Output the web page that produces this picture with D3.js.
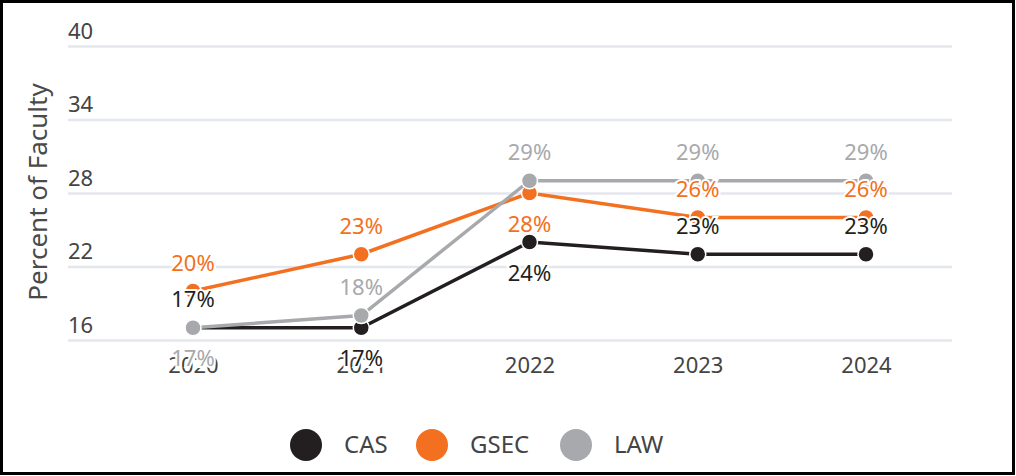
<!DOCTYPE html>
<html>
<head>
<meta charset="utf-8">
<script src="https://cdn.jsdelivr.net/npm/d3@7"></script>
<style>
  html, body { margin: 0; padding: 0; background: #fff; }
  svg { display: block; }
  text { font-family: "Noto Sans", "Open Sans", sans-serif; }
</style>
</head>
<body>
<svg id="chart" width="1016" height="476"></svg>
<script>
const years = ["2020", "2021", "2022", "2023", "2024"];
const seriesNames = ["CAS", "GSEC", "LAW"];
const casValues = [17, 17, 24, 23, 23];
const gsecValues = [20, 23, 28, 26, 26];
const lawValues = [17, 18, 29, 29, 29];
const yTicks = [16, 22, 28, 34, 40];
const yTitle = "Percent of Faculty";

// label placement (above / below each point)
const casLabelSide = ["above", "below", "below", "above", "above"];
const gsecLabelSide = ["above", "above", "below", "above", "above"];
const lawLabelSide = ["below", "above", "above", "above", "above"];

const colors = { CAS: "#231f20", GSEC: "#f37021", LAW: "#a7a9ac" };

const series = [
  { name: "CAS", values: casValues, side: casLabelSide },
  { name: "GSEC", values: gsecValues, side: gsecLabelSide },
  { name: "LAW", values: lawValues, side: lawLabelSide }
];

const svg = d3.select("#chart");
const plotLeft = 68, plotRight = 952, plotTop = 46, plotBottom = 340;

svg.append("rect").attr("x", 1.5).attr("y", 1.5).attr("width", 1012).attr("height", 472)
  .attr("fill", "#fff").attr("stroke", "#000").attr("stroke-width", 3);

const x = d3.scalePoint().domain(years).range([193, 866]).padding(0);
const y = d3.scaleLinear().domain([16, 40]).range([plotBottom, plotTop]);

// y axis gridlines + labels
const yAxis = svg.append("g").attr("transform", `translate(${plotLeft},0)`)
  .call(d3.axisLeft(y).tickValues(yTicks).tickSize(-(plotRight - plotLeft)).tickFormat(d3.format("d")));
yAxis.select(".domain").remove();
yAxis.selectAll(".tick line").attr("stroke", "#e4e7ee").attr("stroke-width", 2.5);
yAxis.selectAll(".tick text").attr("x", 0).attr("dy", -8).attr("text-anchor", "start")
  .attr("font-size", 22).attr("fill", "#444").attr("font-family", '"Noto Sans", sans-serif');

// x axis labels
const xAxis = svg.append("g").attr("transform", `translate(0,${plotBottom})`)
  .call(d3.axisBottom(x).tickSize(0));
xAxis.select(".domain").remove();
xAxis.selectAll(".tick text").attr("y", 26).attr("dy", "0.32em")
  .attr("font-size", 22).attr("fill", "#444").attr("font-family", '"Noto Sans", sans-serif');

// y title
svg.append("text")
  .attr("transform", `translate(47,${192}) rotate(-90)`)
  .attr("text-anchor", "middle")
  .attr("font-size", 26).attr("fill", "#4a4a4a")
  .text(yTitle);

const line = d3.line().x((d, i) => x(years[i])).y(d => y(d));

const gLines = svg.append("g");
series.forEach(s => {
  gLines.append("path").datum(s.values)
    .attr("d", line).attr("fill", "none")
    .attr("stroke", colors[s.name]).attr("stroke-width", 3.5);
  gLines.selectAll(null).data(s.values).enter().append("circle")
    .attr("cx", (d, i) => x(years[i])).attr("cy", d => y(d))
    .attr("r", 8).attr("fill", colors[s.name])
    .attr("stroke", "#fff").attr("stroke-width", 1.5);
});

const gLabels = svg.append("g");
series.forEach(s => {
  gLabels.selectAll(null).data(s.values).enter().append("text")
    .attr("x", (d, i) => x(years[i]))
    .attr("y", (d, i) => y(d) + (s.side[i] === "above" ? -28 : 31))
    .attr("dy", "0.35em")
    .attr("text-anchor", "middle")
    .attr("font-size", 22)
    .attr("fill", colors[s.name])
    .attr("stroke", "#fff").attr("stroke-width", 4)
    .attr("paint-order", "stroke")
    .text(d => d + "%");
});

// legend
const legendX = [306, 432, 576];
const legend = svg.append("g");
seriesNames.forEach((n, i) => {
  legend.append("circle").attr("cx", legendX[i]).attr("cy", 445).attr("r", 16).attr("fill", colors[n]);
  legend.append("text").attr("x", legendX[i] + 38).attr("y", 445).attr("dy", "0.35em")
    .attr("font-size", 24).attr("fill", "#444")
    .attr("font-family", '"Noto Sans", sans-serif')
    .text(n);
});
</script>
</body>
</html>
